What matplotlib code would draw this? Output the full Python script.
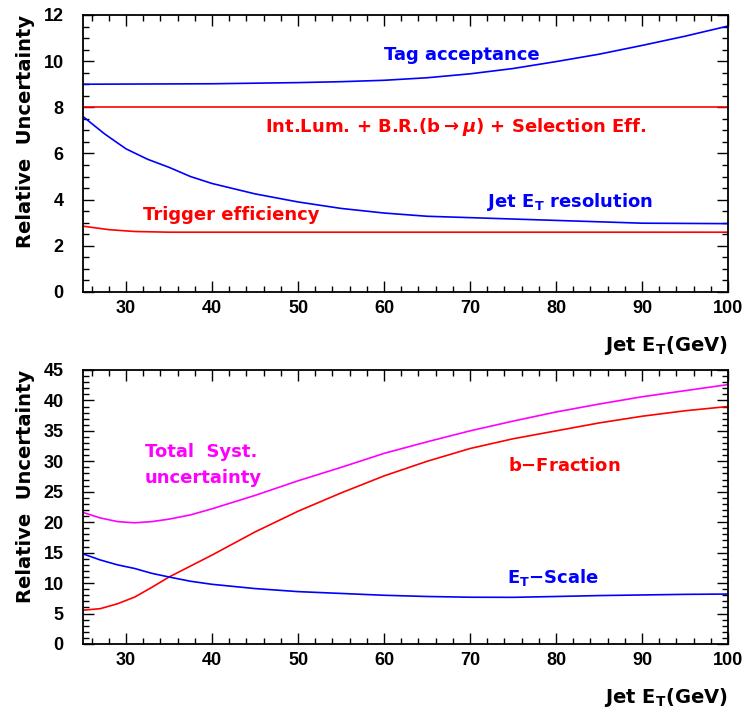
import matplotlib
matplotlib.use("Agg")
import matplotlib.pyplot as plt
from matplotlib.ticker import MultipleLocator

plt.rcParams['font.family'] = ['Liberation Sans', 'DejaVu Sans']
plt.rcParams['font.weight'] = 'bold'
plt.rcParams['mathtext.default'] = 'regular'

# top panel curves (Jet E_T in GeV -> relative uncertainty)
et_tag = [25, 40, 50, 55, 60, 65, 70, 75, 80, 85, 90, 95, 100]
tag_acc = [9.0, 9.02, 9.07, 9.11, 9.17, 9.28, 9.45, 9.68, 9.98, 10.3, 10.68, 11.08, 11.52]

et_lum = [25, 100]
lum_br_sel = [8.0, 8.0]

et_res = [25, 26, 27.5, 30, 32.5, 35, 37.5, 40, 45, 50, 55, 60, 65, 70, 80, 90, 100]
jet_res = [7.6, 7.3, 6.85, 6.2, 5.75, 5.4, 5.0, 4.7, 4.25, 3.9, 3.62, 3.42, 3.28, 3.22, 3.1, 2.98, 2.96]

et_trig = [25, 28, 31, 35, 100]
trig_eff = [2.85, 2.7, 2.62, 2.59, 2.59]

# bottom panel curves
et_bot = [25, 27, 29, 31, 33, 35, 37.5, 40, 45, 50, 55, 60, 65, 70, 75, 80, 85, 90, 95, 100]
total_syst = [21.6, 20.7, 20.1, 19.9, 20.1, 20.5, 21.2, 22.2, 24.4, 26.8, 29.0, 31.3, 33.2, 35.0, 36.6, 38.1, 39.4, 40.6, 41.6, 42.6]
b_fraction = [5.55, 5.8, 6.6, 7.7, 9.3, 11.0, 12.8, 14.6, 18.4, 21.8, 24.8, 27.6, 30.0, 32.1, 33.7, 35.0, 36.3, 37.4, 38.3, 39.0]
et_scale = [14.8, 13.8, 13.0, 12.4, 11.6, 11.0, 10.3, 9.8, 9.1, 8.6, 8.3, 8.0, 7.8, 7.68, 7.66, 7.8, 7.95, 8.05, 8.15, 8.2]

BLUE = '#0000ff'
RED = '#ff0000'
MAG = '#ff00ff'
LBL = ['DejaVu Sans']

fig = plt.figure(figsize=(7.5, 7.13), dpi=100)
ax1 = fig.add_axes([0.1107, 0.5905, 0.86, 0.3885])
ax2 = fig.add_axes([0.1107, 0.0968, 0.86, 0.3843])

lw = 1.2
ax1.plot(et_tag, tag_acc, color=BLUE, lw=lw)
ax1.plot(et_lum, lum_br_sel, color=RED, lw=lw)
ax1.plot(et_res, jet_res, color=BLUE, lw=lw)
ax1.plot(et_trig, trig_eff, color=RED, lw=lw)

ax2.plot(et_bot, total_syst, color=MAG, lw=lw)
ax2.plot(et_bot, b_fraction, color=RED, lw=lw)
ax2.plot(et_bot, et_scale, color=BLUE, lw=lw)

fs = 13
kw = dict(fontsize=fs, va='center', family=LBL, fontweight='bold')
ax1.text(60, 10.27, 'Tag acceptance', color=BLUE, **kw)
ax1.text(46.2, 7.15, 'Int.Lum. + B.R.(b$\\rightarrow$$\\mathit{\\mu}$) + Selection Eff.', color=RED, **kw)
ax1.text(72, 3.9, 'Jet E$_T$ resolution', color=BLUE, **kw)
ax1.text(32, 3.35, 'Trigger efficiency', color=RED, **kw)

ax2.text(32.2, 31.6, 'Total  Syst.', color=MAG, **kw)
ax2.text(32.2, 27.2, 'uncertainty', color=MAG, **kw)
ax2.text(74.4, 29.2, 'b$-$Fraction', color=RED, **kw)
ax2.text(74.3, 10.9, 'E$_T$$-$Scale', color=BLUE, **kw)

for ax, ymax, ymaj, ymin in [(ax1, 12, 2, 0.5), (ax2, 45, 5, 1)]:
    ax.set_xlim(25, 100)
    ax.set_ylim(0, ymax)
    ax.xaxis.set_major_locator(MultipleLocator(10))
    ax.xaxis.set_minor_locator(MultipleLocator(2))
    ax.yaxis.set_major_locator(MultipleLocator(ymaj))
    ax.yaxis.set_minor_locator(MultipleLocator(ymin))
    ax.tick_params(which='both', direction='in', top=True, right=True, width=1.0)
    ax.tick_params(which='major', length=8, labelsize=13)
    ax.tick_params(which='minor', length=4)
    ax.tick_params(axis='y', pad=14)
    ax.tick_params(axis='x', pad=6)
    for s in ax.spines.values():
        s.set_linewidth(1.3)
    ax.set_ylabel('Relative  Uncertainty', fontsize=14, fontweight='bold', family=LBL,
                  loc='top', labelpad=6)
    ax.set_xlabel('Jet E$_T$(GeV)', fontsize=14, fontweight='bold', family=LBL,
                  loc='right', labelpad=12)
    xt = ax.get_xticks()
    ax.set_xticks([t for t in xt if 30 <= t <= 100])

plt.savefig('out.png', dpi=100)
